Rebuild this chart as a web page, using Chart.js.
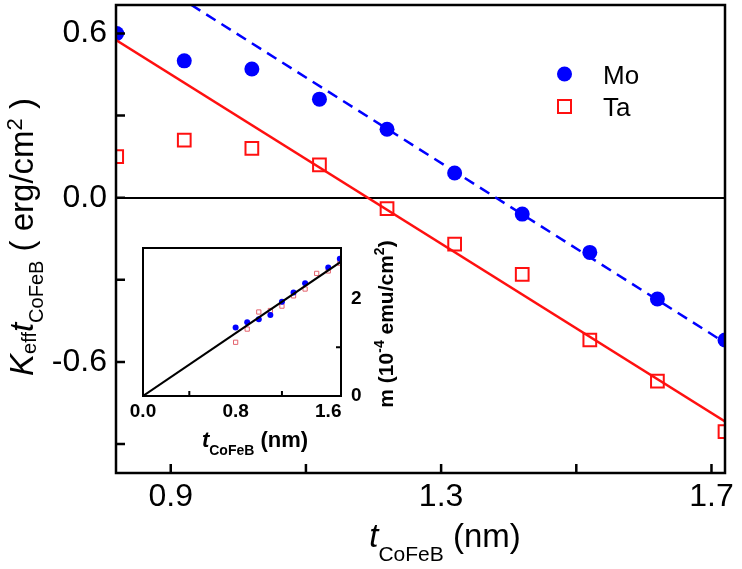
<!DOCTYPE html>
<html>
<head>
<meta charset="utf-8">
<script src="https://cdn.jsdelivr.net/npm/chart.js@4/dist/chart.umd.min.js"></script>
<style>
  html, body { margin: 0; padding: 0; background: #fff; }
  #wrap { position: relative; width: 742px; height: 569px; }
  #mainChart { position: absolute; left: 0; top: 0; }
  #insetChart { position: absolute; left: 100px; top: 230px; }
</style>
</head>
<body>
<div id="wrap">
  <canvas id="mainChart" width="742" height="569"></canvas>
  <canvas id="insetChart" width="310" height="240"></canvas>
</div>
<script>
// main panel: Keff*t vs CoFeB thickness
const thickness = [0.82, 0.92, 1.02, 1.12, 1.22, 1.32, 1.42, 1.52, 1.62, 1.72];
const moK = [0.60, 0.50, 0.47, 0.36, 0.25, 0.09, -0.06, -0.20, -0.37, -0.52];
const taK = [0.15, 0.21, 0.18, 0.12, -0.04, -0.17, -0.28, -0.52, -0.67, -0.855];
const moFitX = [0.93, 1.72];
const moFitY = [0.705, -0.53];
const taFitX = [0.819, 1.72];
const taFitY = [0.576, -0.818];
const xTicks = [0.9, 1.1, 1.3, 1.5, 1.7];
const xLabels = [0.9, 1.3, 1.7];
const yTicks = [-0.9, -0.6, -0.3, 0, 0.3, 0.6];
const yLabels = [-0.6, 0, 0.6];

// inset: moment vs thickness
const insetX = [0.8, 0.9, 1.0, 1.1, 1.2, 1.3, 1.4, 1.5, 1.6, 1.7];
const insetMo = [1.40, 1.51, 1.57, 1.66, 1.93, 2.12, 2.31, null, 2.63, 2.81];
const insetTa = [1.10, 1.37, 1.72, 1.75, 1.84, 2.05, 2.19, 2.51, 2.56, 2.72];
const insetFitX = [0, 1.71];
const insetFitY = [0, 2.75];
const insetXTicks = [0, 0.4, 0.8, 1.2, 1.6];
const insetXLabels = [0, 0.8, 1.6];
const insetYTicks = [0, 1, 2];
const insetYLabels = [0, 2];

const FONT = "'Liberation Sans', Arial, Helvetica, sans-serif";
const BLUE = "#0000ff";
const RED = "#ff1010";

const pts = (xs, ys) => xs.map((x, i) => ({ x: x, y: ys[i] }));

// draws a line of text made of pieces (italic, sub, sup)
function drawRich(ctx, parts, x, y, rotate) {
  ctx.save();
  ctx.translate(x, y);
  if (rotate) ctx.rotate(-Math.PI / 2);
  let total = 0;
  parts.forEach((p) => {
    ctx.font = p.font;
    p.w = ctx.measureText(p.text).width;
    total += p.w;
  });
  let cx = -total / 2;
  ctx.textAlign = "left";
  ctx.textBaseline = "alphabetic";
  ctx.fillStyle = "#000";
  parts.forEach((p) => {
    ctx.font = p.font;
    ctx.fillText(p.text, cx, p.dy || 0);
    cx += p.w;
  });
  ctx.restore();
}

// frame + inward ticks
function drawFrame(chart, xt, yt, len, lw, yRight) {
  const ctx = chart.ctx;
  const a = chart.chartArea;
  ctx.save();
  ctx.strokeStyle = "#000";
  ctx.lineWidth = lw;
  ctx.beginPath();
  xt.forEach((v) => {
    const px = chart.scales.x.getPixelForValue(v);
    ctx.moveTo(px, a.bottom);
    ctx.lineTo(px, a.bottom - len);
  });
  yt.forEach((v) => {
    const py = chart.scales.y.getPixelForValue(v);
    if (yRight) {
      ctx.moveTo(a.right, py);
      ctx.lineTo(a.right - len, py);
    } else {
      ctx.moveTo(a.left, py);
      ctx.lineTo(a.left + len, py);
    }
  });
  ctx.stroke();
  ctx.strokeRect(a.left, a.top, a.right - a.left, a.bottom - a.top);
  ctx.restore();
}

const mainDecor = {
  id: "mainDecor",
  afterDraw(chart) {
    const ctx = chart.ctx;
    drawFrame(chart, xTicks, yTicks, 9, 2.5, false);

    // legend
    ctx.save();
    ctx.fillStyle = BLUE;
    ctx.beginPath();
    ctx.arc(564.5, 74, 7.5, 0, Math.PI * 2);
    ctx.fill();
    ctx.strokeStyle = RED;
    ctx.lineWidth = 2;
    ctx.strokeRect(558, 100, 13, 13);
    ctx.fillStyle = "#000";
    ctx.font = "26px " + FONT;
    ctx.textAlign = "left";
    ctx.fillText("Mo", 603, 84);
    ctx.fillText("Ta", 603, 116);
    ctx.restore();

    // axis titles
    drawRich(ctx, [
      { text: "t", font: "italic 33px " + FONT },
      { text: "CoFeB", font: "21px " + FONT, dy: 14 },
      { text: " (nm)", font: "33px " + FONT },
    ], 445, 547, false);

    drawRich(ctx, [
      { text: "K", font: "italic 33px " + FONT },
      { text: "eff", font: "20px " + FONT, dy: 3 },
      { text: "t", font: "italic 33px " + FONT },
      { text: "CoFeB", font: "20px " + FONT, dy: 10 },
      { text: " ( erg/cm", font: "33px " + FONT },
      { text: "2", font: "22px " + FONT, dy: -11 },
      { text: " )", font: "33px " + FONT },
    ], 33, 237, true);
  },
};

new Chart(document.getElementById("mainChart"), {
  type: "scatter",
  data: {
    datasets: [
      {
        label: "Mo fit",
        data: pts(moFitX, moFitY),
        showLine: true,
        borderColor: BLUE,
        borderWidth: 2.5,
        borderDash: [11, 7],
        pointRadius: 0,
      },
      {
        label: "Ta fit",
        data: pts(taFitX, taFitY),
        showLine: true,
        borderColor: RED,
        borderWidth: 2.5,
        pointRadius: 0,
      },
      {
        label: "Mo",
        data: pts(thickness, moK),
        pointStyle: "circle",
        pointRadius: 7.5,
        backgroundColor: BLUE,
        borderColor: BLUE,
        borderWidth: 0,
      },
      {
        label: "Ta",
        data: pts(thickness, taK),
        pointStyle: "rect",
        pointRadius: 9,
        backgroundColor: "rgba(0,0,0,0)",
        borderColor: RED,
        borderWidth: 2,
      },
    ],
  },
  options: {
    responsive: false,
    animation: false,
    layout: { autoPadding: false, padding: { left: 0, top: 5, right: 17, bottom: 0 } },
    plugins: { legend: { display: false }, tooltip: { enabled: false } },
    scales: {
      x: {
        type: "linear",
        min: 0.819,
        max: 1.72,
        afterBuildTicks: (s) => { s.ticks = xTicks.map((v) => ({ value: v })); },
        afterFit: (s) => { s.height = 96; s.paddingLeft = 0; s.paddingRight = 0; },
        ticks: {
          callback: (v) => (xLabels.includes(v) ? v.toFixed(1) : ""),
          font: { family: FONT, size: 32 },
          color: "#000",
          padding: -3,
          maxRotation: 0,
          autoSkip: false,
        },
        grid: { display: false },
        border: { display: false },
      },
      y: {
        type: "linear",
        min: -1.006,
        max: 0.704,
        afterBuildTicks: (s) => { s.ticks = yTicks.map((v) => ({ value: v })); },
        afterFit: (s) => { s.width = 116; s.paddingTop = 0; s.paddingBottom = 0; },
        ticks: {
          callback: (v) => (yLabels.includes(v) ? v.toFixed(1) : ""),
          font: { family: FONT, size: 32 },
          color: "#000",
          padding: 9,
          autoSkip: false,
        },
        grid: {
          drawTicks: false,
          color: (c) => (c.tick && c.tick.value === 0 ? "#000" : "rgba(0,0,0,0)"),
          lineWidth: 2,
        },
        border: { display: false },
      },
    },
  },
  plugins: [mainDecor],
});

const insetDecor = {
  id: "insetDecor",
  afterDraw(chart) {
    const ctx = chart.ctx;
    drawFrame(chart, [0.4, 1.2], [1], 5, 2, true);

    drawRich(ctx, [
      { text: "t", font: "italic bold 22px " + FONT },
      { text: "CoFeB", font: "bold 14px " + FONT, dy: 8 },
      { text: " (nm)", font: "bold 22px " + FONT },
    ], 155, 217, false);

    drawRich(ctx, [
      { text: "m (10", font: "bold 21px " + FONT },
      { text: "-4", font: "bold 14px " + FONT, dy: -9 },
      { text: " emu/cm", font: "bold 21px " + FONT },
      { text: "2", font: "bold 14px " + FONT, dy: -9 },
      { text: ")", font: "bold 21px " + FONT },
    ], 293, 94, true);
  },
};

new Chart(document.getElementById("insetChart"), {
  type: "scatter",
  data: {
    datasets: [
      {
        label: "fit",
        data: pts(insetFitX, insetFitY),
        showLine: true,
        borderColor: "#000",
        borderWidth: 2,
        pointRadius: 0,
      },
      {
        label: "Mo",
        data: pts(insetX, insetMo),
        pointStyle: "circle",
        pointRadius: 3,
        backgroundColor: BLUE,
        borderColor: BLUE,
        borderWidth: 0,
      },
      {
        label: "Ta",
        data: pts(insetX, insetTa),
        pointStyle: "rect",
        pointRadius: 3,
        backgroundColor: "rgba(0,0,0,0)",
        borderColor: "rgb(228,100,110)",
        borderWidth: 1,
      },
    ],
  },
  options: {
    responsive: false,
    animation: false,
    layout: { autoPadding: false, padding: { left: 43, top: 18, right: 0, bottom: 0 } },
    plugins: { legend: { display: false }, tooltip: { enabled: false } },
    scales: {
      x: {
        type: "linear",
        min: 0,
        max: 1.71,
        afterBuildTicks: (s) => { s.ticks = insetXTicks.map((v) => ({ value: v })); },
        afterFit: (s) => { s.height = 74; s.paddingLeft = 0; s.paddingRight = 0; },
        ticks: {
          callback: (v) => (insetXLabels.includes(v) ? v.toFixed(1) : ""),
          font: { family: FONT, size: 19, weight: "bold" },
          color: "#000",
          padding: -4,
          maxRotation: 0,
          autoSkip: false,
        },
        grid: { display: false },
        border: { display: false },
      },
      y: {
        type: "linear",
        position: "right",
        min: 0,
        max: 3.03,
        afterBuildTicks: (s) => { s.ticks = insetYTicks.map((v) => ({ value: v })); },
        afterFit: (s) => { s.width = 69; s.paddingTop = 0; s.paddingBottom = 0; },
        ticks: {
          callback: (v) => (insetYLabels.includes(v) ? String(v) : ""),
          font: { family: FONT, size: 19, weight: "bold" },
          color: "#000",
          padding: 2,
          autoSkip: false,
        },
        grid: { display: false },
        border: { display: false },
      },
    },
  },
  plugins: [insetDecor],
});
</script>
</body>
</html>
